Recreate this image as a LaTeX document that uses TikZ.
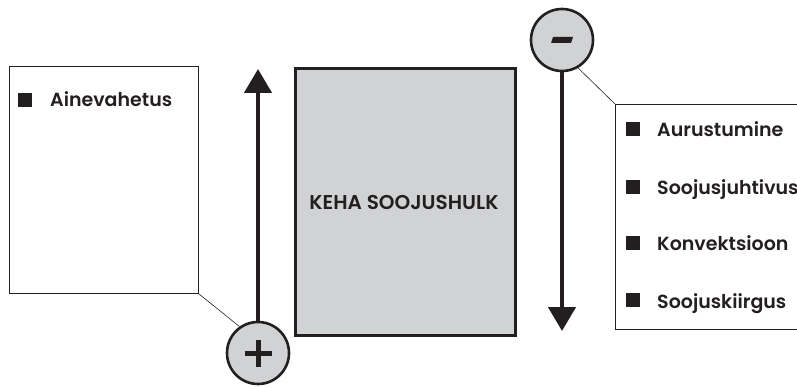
\documentclass[tikz,border=0pt]{standalone}
\usepackage{fontspec}
\setmainfont{Poppins}[BoldFont={* SemiBold}]
\usetikzlibrary{arrows.meta}
\definecolor{panelgray}{HTML}{D1D2D4}
\definecolor{ink}{HTML}{231F20}
\tikzset{
  listbox/.style={draw=ink, line width=0.8pt, fill=white},
  signcirc/.style={circle, draw=ink, line width=2.6pt, fill=panelgray, minimum size=62pt, inner sep=0pt},
  flow/.style={draw=ink, line width=4.5pt, -{Triangle[length=24pt, width=27pt]}},
  leader/.style={draw=ink, line width=0.6pt},
  item/.style={anchor=base west, font=\bfseries\fontsize{19}{21}\selectfont, text=ink, inner sep=0pt},
  bullet/.style={fill=ink, minimum size=14pt, inner sep=0pt, anchor=center},
  signbar/.style={draw=ink, line width=5pt}
}
\begin{document}
\begin{tikzpicture}[x=1pt, y=-1pt]
  \useasboundingbox (0,0) rectangle (797,387);
  \clip (0,0) rectangle (797,387);

  % left list panel
  \node[listbox, anchor=north west, minimum width=189pt, minimum height=227pt] (lbox) at (9,66) {};
  \node[bullet] (lb1) at (25,100) {};
  \node[item] (lt1) at (50,107) {Ainevahetus};

  % central body
  \node[draw=ink, line width=2.8pt, fill=panelgray, anchor=north west, minimum width=220pt, minimum height=267pt, inner sep=0pt] (body) at (294,67) {};
  \node[font=\bfseries\fontsize{20}{22}\selectfont, text=ink] (bodytxt) at (404,202) {KEHA SOOJUSHULK};

  % gain circle with plus sign and upward arrow
  \node[signcirc] (plus) at (258,353) {};
  \draw[signbar] ([xshift=-13.5pt]plus.center) -- ([xshift=13.5pt]plus.center);
  \draw[signbar] ([yshift=-13.5pt]plus.center) -- ([yshift=13.5pt]plus.center);
  \coordinate (uptip) at (258,69);
  \draw[flow] (plus.north) -- (uptip);
  \draw[leader] (lbox.south east) -- (plus.125);

  % loss circle with minus sign and downward arrow
  \node[signcirc] (minus) at (562,40) {};
  \fill[ink] ([shift={(-9,-3)}]minus.center) -- ([shift={(11,-3)}]minus.center)
             -- ([shift={(9,3)}]minus.center) -- ([shift={(-11,3)}]minus.center) -- cycle;
  \coordinate (downtip) at (562,331);
  \draw[flow] (minus.south) -- (downtip);

  % right list panel
  \node[listbox, anchor=north west, minimum width=220pt, minimum height=225pt] (rbox) at (615,104) {};
  \draw[leader] (minus.-60) -- (rbox.north west);
  \node[bullet] (rb1) at (633,129) {};
  \node[item] (rt1) at (657,137) {Aurustumine};
  \node[bullet] (rb2) at (633,187) {};
  \node[item] (rt2) at (657,195) {Soojusjuhtivus};
  \node[bullet] (rb3) at (633,243) {};
  \node[item] (rt3) at (657,251) {Konvektsioon};
  \node[bullet] (rb4) at (633,300) {};
  \node[item] (rt4) at (657,308) {Soojuskiirgus};
\end{tikzpicture}
\end{document}
